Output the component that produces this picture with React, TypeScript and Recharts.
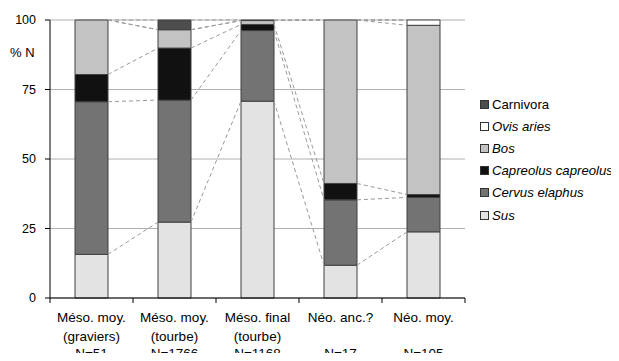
import {
  ComposedChart,
  Bar,
  XAxis,
  YAxis,
  CartesianGrid,
  Legend,
  ReferenceLine,
  Customized,
} from 'recharts';

const periods = ['Méso. moy.', 'Méso. moy.', 'Méso. final', 'Néo. anc.?', 'Néo. moy.'];
const contexts = ['(graviers)', '(tourbe)', '(tourbe)', '', ''];
const counts = ['N=51', 'N=1766', 'N=1168', 'N=17', 'N=105'];

const sus = [15.7, 27.3, 70.8, 11.8, 23.8];
const cervus = [54.9, 43.9, 25.4, 23.5, 12.4];
const capreolus = [9.8, 18.7, 2.2, 5.9, 1.0];
const bos = [19.6, 6.6, 1.4, 58.8, 60.9];
const ovis = [0, 0, 0, 0, 1.9];
const carnivora = [0, 3.5, 0.2, 0, 0];

const yTicks = [0, 25, 50, 75, 100];
const xTicks = [0, 1, 2, 3, 4, 5];

// bottom to top stack order
const series = [
  { key: 'sus', name: 'Sus', italic: true, color: '#e3e3e3', values: sus },
  { key: 'cervus', name: 'Cervus elaphus', italic: true, color: '#737373', values: cervus },
  { key: 'capreolus', name: 'Capreolus capreolus', italic: true, color: '#111111', values: capreolus },
  { key: 'bos', name: 'Bos', italic: true, color: '#c3c3c3', values: bos },
  { key: 'ovis', name: 'Ovis aries', italic: true, color: '#ffffff', values: ovis },
  { key: 'carnivora', name: 'Carnivora', italic: false, color: '#4d4d4d', values: carnivora },
];

// each category sits in the middle of a unit slot on a numeric axis
const data = periods.map((p, i) => {
  const row: Record<string, any> = { x: i + 0.5 };
  series.forEach((s) => (row[s.key] = s.values[i]));
  return row;
});

// cumulative tops of each series, for the dashed series lines
const tops = series.map((_, si) =>
  periods.map((__, i) => series.slice(0, si + 1).reduce((acc, s) => acc + s.values[i], 0))
);

const BAND = 83;
const BAR = 33;
const HALF = BAR / 2 / BAND;

function XTick(props: any) {
  const { x, y, payload } = props;
  const i = Number(payload.value);
  if (i >= periods.length) return <g />;
  const cx = x + BAND / 2;
  return (
    <g>
      <text x={cx} y={y + 19} textAnchor="middle" fontSize={13.5} fill="#000">{periods[i]}</text>
      <text x={cx} y={y + 37.5} textAnchor="middle" fontSize={13.5} fill="#000">{contexts[i]}</text>
      <text x={cx} y={y + 55} textAnchor="middle" fontSize={13.5} fill="#000">{counts[i]}</text>
    </g>
  );
}

function renderLegend() {
  return (
    <div style={{ fontSize: 13.2, color: '#000', whiteSpace: 'nowrap' }}>
      {[...series].reverse().map((s) => (
        <div key={s.key} style={{ display: 'flex', alignItems: 'center', height: 22.2 }}>
          <span
            style={{
              display: 'inline-block',
              width: 7,
              height: 7,
              background: s.color,
              border: '1px solid #333',
              marginRight: 3,
            }}
          />
          <span style={{ fontStyle: s.italic ? 'italic' : 'normal' }}>{s.name}</span>
        </div>
      ))}
    </div>
  );
}

export default function App() {
  return (
    <div style={{ margin: -8, fontFamily: '"Liberation Sans", Arial, sans-serif', background: '#fff' }}>
      <ComposedChart
        width={619}
        height={361}
        data={data}
        margin={{ top: 20, right: 154, left: 0, bottom: 0 }}
      >
        <CartesianGrid vertical={false} stroke="#b0b0b0" />
        <XAxis
          dataKey="x"
          type="number"
          domain={[0, 5]}
          ticks={xTicks}
          allowDataOverflow
          tick={<XTick />}
          tickSize={5}
          tickMargin={0}
          height={63}
          axisLine={{ stroke: '#000' }}
          tickLine={{ stroke: '#000' }}
          interval={0}
        />
        <YAxis
          domain={[0, 100]}
          ticks={yTicks}
          width={50}
          tickSize={5}
          tickMargin={9}
          axisLine={{ stroke: '#000' }}
          tickLine={{ stroke: '#000' }}
          tick={{ fill: '#000', fontSize: 12.5 }}
        />
        {tops.map((t, si) =>
          t.slice(0, -1).map((v, i) => (
            <ReferenceLine
              key={`${si}-${i}`}
              segment={[
                { x: i + 0.5 + HALF, y: v },
                { x: i + 1.5 - HALF, y: t[i + 1] },
              ]}
              stroke="#999"
              strokeDasharray="4 3"
              ifOverflow="visible"
            />
          ))
        )}
        {series.map((s) => (
          <Bar
            key={s.key}
            dataKey={s.key}
            name={s.name}
            stackId="a"
            barSize={BAR}
            fill={s.color}
            stroke="#404040"
            strokeWidth={1}
            isAnimationActive={false}
          />
        ))}
        <Legend
          layout="horizontal"
          verticalAlign="middle"
          content={renderLegend}
          wrapperStyle={{ left: 480, top: 93, width: 139 }}
        />
        <Customized
          component={
            <text x={10} y={57} fontSize={13} fill="#000">
              % N
            </text>
          }
        />
      </ComposedChart>
    </div>
  );
}
